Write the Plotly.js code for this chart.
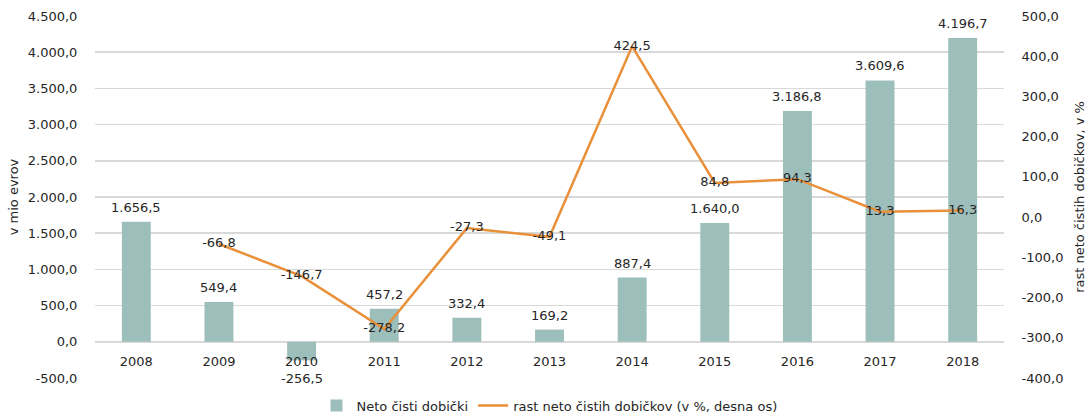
<!DOCTYPE html>
<html>
<head>
<meta charset="utf-8">
<script src="https://cdn.plot.ly/plotly-3.0.1.min.js"></script>
<style>
  html, body { margin: 0; padding: 0; background: #fff; }
  #chart { width: 1087px; height: 416px; }
</style>
</head>
<body>
<div id="chart"></div>
<script>
// ---- data ----
const years = ['2008', '2009', '2010', '2011', '2012', '2013', '2014', '2015', '2016', '2017', '2018'];
const netProfit = [1656.5, 549.4, -256.5, 457.2, 332.4, 169.2, 887.4, 1640.0, 3186.8, 3609.6, 4196.7];
const growthPct = [null, -66.8, -146.7, -278.2, -27.3, -49.1, 424.5, 84.8, 94.3, 13.3, 16.3];
const leftTicks = [-500, 0, 500, 1000, 1500, 2000, 2500, 3000, 3500, 4000, 4500];
const rightTicks = [-400, -300, -200, -100, 0, 100, 200, 300, 400, 500];
const barName = 'Neto čisti dobički';
const lineName = 'rast neto čistih dobičkov (v %, desna os)';
const leftTitle = 'v mio evrov';
const rightTitle = 'rast neto čistih dobičkov, v %';

function fmt(v) {
  if (v === null || v === undefined) return '';
  const neg = v < 0;
  const s = Math.abs(v).toFixed(1);
  let [intPart, dec] = s.split('.');
  intPart = intPart.replace(/\B(?=(\d{3})+(?!\d))/g, '.');
  return (neg ? '-' : '') + intPart + ',' + dec;
}

const FONT = 'DejaVu Sans, sans-serif';
const TXT = '#262626';

const traces = [
  {
    type: 'bar',
    name: barName,
    x: years,
    y: netProfit,
    marker: { color: '#9dbfbc' },
    hoverinfo: 'x+y'
  },
  {
    type: 'scatter',
    mode: 'lines+text',
    name: lineName,
    x: years,
    y: growthPct,
    yaxis: 'y2',
    text: growthPct.map(fmt),
    textposition: 'middle center',
    textfont: { family: FONT, size: 13, color: TXT },
    line: { color: '#e8913a', width: 2.5 },
    cliponaxis: false,
    connectgaps: false
  }
];

// bar value labels, placed at each bar end through the data axes (category index)
const barLabels = years.map((yr, i) => ({
  x: i,
  y: netProfit[i],
  xref: 'x',
  yref: 'y',
  text: fmt(netProfit[i]),
  showarrow: false,
  yanchor: netProfit[i] >= 0 ? 'bottom' : 'top',
  yshift: netProfit[i] >= 0 ? 5 : -9,
  font: { family: FONT, size: 13, color: TXT }
}));

const layout = {
  width: 1087,
  height: 416,
  margin: { l: 95, r: 83, t: 16, b: 38, autoexpand: false },
  paper_bgcolor: '#ffffff',
  plot_bgcolor: '#ffffff',
  font: { family: FONT, size: 13, color: TXT },
  bargap: 0.65,
  showlegend: true,
  legend: {
    orientation: 'h',
    x: 0.5, xanchor: 'center',
    y: -0.035, yanchor: 'top',
    font: { family: FONT, size: 13, color: TXT },
    itemwidth: 30,
    tracegroupgap: 0
  },
  annotations: barLabels,
  xaxis: {
    type: 'category',
    range: [-0.5, years.length - 0.5],
    autorange: false,
    anchor: 'free',
    position: 0.1,
    showgrid: false,
    showline: false,
    zeroline: false,
    ticks: 'outside',
    ticklen: 8,
    tickcolor: 'rgba(0,0,0,0)',
    tickfont: { family: FONT, size: 13, color: TXT }
  },
  yaxis: {
    range: [-500, 4500],
    tickvals: leftTicks,
    ticktext: leftTicks.map(fmt),
    showgrid: true,
    gridcolor: '#d9d9d9',
    gridwidth: 1.5,
    zeroline: false,
    showline: false,
    ticks: 'outside',
    ticklen: 14,
    tickcolor: 'rgba(0,0,0,0)',
    tickfont: { family: FONT, size: 13, color: TXT },
    title: { text: leftTitle, font: { family: FONT, size: 13, color: TXT }, standoff: 6 }
  },
  yaxis2: {
    overlaying: 'y',
    side: 'right',
    range: [-400, 500],
    tickvals: rightTicks,
    ticktext: rightTicks.map(fmt),
    showgrid: false,
    zeroline: false,
    showline: false,
    ticks: 'outside',
    ticklen: 14,
    tickcolor: 'rgba(0,0,0,0)',
    tickfont: { family: FONT, size: 13, color: TXT },
    title: { text: rightTitle, font: { family: FONT, size: 13, color: TXT }, standoff: 12 }
  }
};

Plotly.newPlot('chart', traces, layout, { displayModeBar: false, staticPlot: true });
</script>
</body>
</html>
